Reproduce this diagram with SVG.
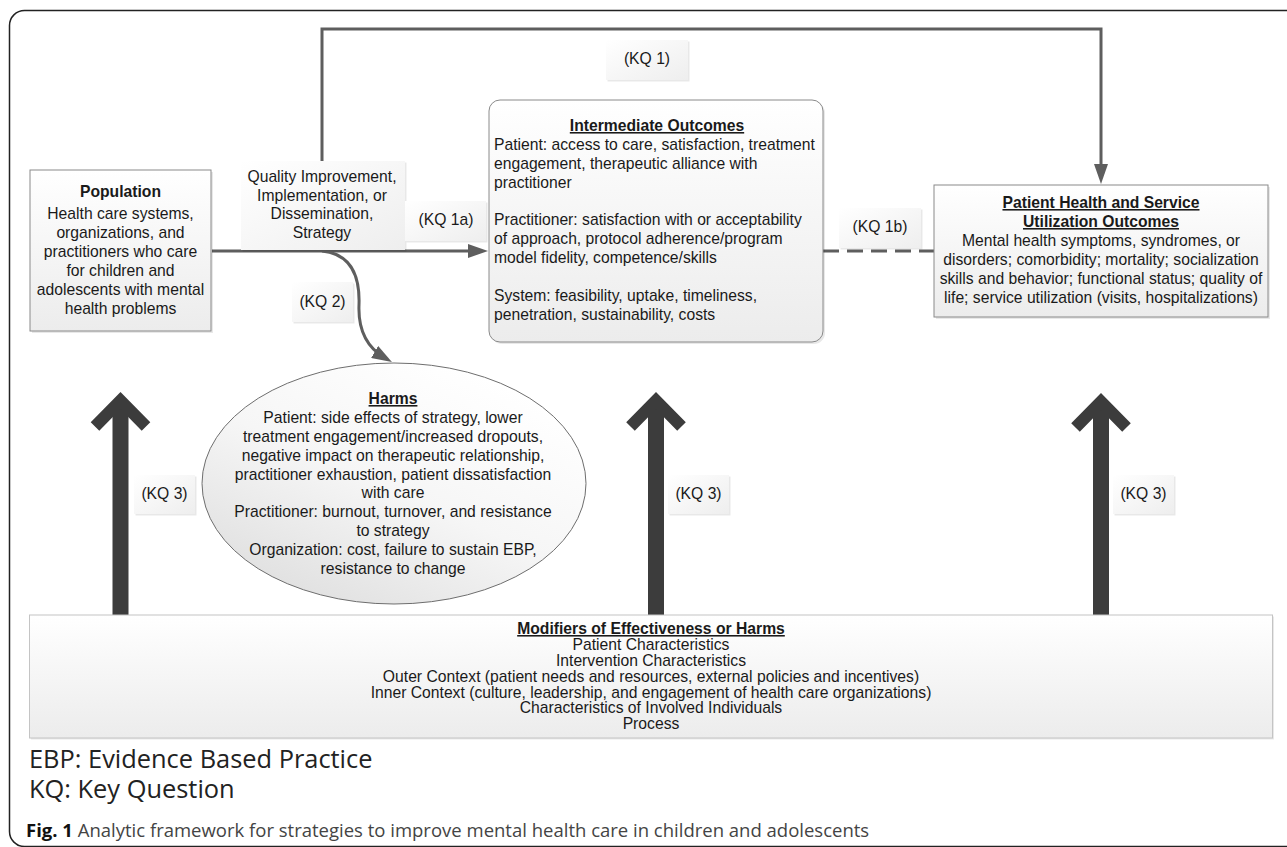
<svg xmlns="http://www.w3.org/2000/svg" width="1287" height="847" viewBox="0 0 1287 847">
<style>
.t{font-family:"Liberation Sans",Arial,sans-serif;font-size:15.7px;fill:#1a1a1a}
.c{text-anchor:middle}
.b{font-weight:bold}
.u{text-decoration:underline}
.conn{fill:none;stroke:#5e5e5e;stroke-width:3}
.box{stroke:#8a8a8a;stroke-width:1}
.lbl{fill:url(#gl)}
.sh{fill:#000;opacity:.09}
.cap{font-family:"Open Sans","Noto Sans",sans-serif;fill:#222}
.kq3{stroke:#3c3c3c;fill:none}
</style>
<defs>
<linearGradient id="gl" x1="0" y1="0" x2="1" y2="1">
<stop offset="0" stop-color="#ffffff"/><stop offset="1" stop-color="#eeeeee"/>
</linearGradient>
<linearGradient id="gb" x1="0" y1="0" x2="0" y2="1">
<stop offset="0" stop-color="#ffffff"/><stop offset="1" stop-color="#ececec"/>
</linearGradient>
<linearGradient id="ge" x1="0.8" y1="0.1" x2="0.2" y2="0.95">
<stop offset="0" stop-color="#ffffff"/><stop offset="0.5" stop-color="#f6f6f6"/><stop offset="1" stop-color="#e0e0e0"/>
</linearGradient>
<marker id="ah" markerUnits="userSpaceOnUse" markerWidth="20" markerHeight="14" viewBox="0 0 20 14" refX="12" refY="7" orient="auto">
<path d="M0,0 L20,7 L0,14 z" fill="#5e5e5e"/>
</marker>
<g id="bigArrow">
<line x1="0" y1="615" x2="0" y2="402" stroke-width="16" class="kq3"/>
<polyline points="-25.5,426.5 0,400.5 25.5,426.5" stroke-width="12" stroke-linejoin="miter" class="kq3"/>
</g>
</defs>

<rect x="9.5" y="10.5" width="1300" height="836" rx="15" fill="#fff" stroke="#222" stroke-width="1.5"/>

<g id="connectors">
<path class="conn" d="M322,251 L322,29 L1101,29 L1101,176" marker-end="url(#ah)"/>
<path class="conn" d="M212,251 L480,251" marker-end="url(#ah)"/>
<path class="conn" d="M823,251 L934,251" stroke-dasharray="16 8"/>
<path class="conn" d="M322,251 C352,254 360,278 359,305 C358,330 366,347 385,358" marker-end="url(#ah)"/>
<use href="#bigArrow" x="120.5"/>
<use href="#bigArrow" x="656"/>
<use href="#bigArrow" x="1101" y="1"/>
</g>

<g id="population">
<rect x="32" y="172" width="181" height="161" class="sh"/>
<rect x="30" y="170" width="181" height="161" fill="url(#gb)" class="box"/>
<text class="t c b" x="120.5" y="197">Population</text>
<text class="t c" x="120.5" y="219">Health care systems,</text>
<text class="t c" x="120.5" y="238">organizations, and</text>
<text class="t c" x="120.5" y="257">practitioners who care</text>
<text class="t c" x="120.5" y="276">for children and</text>
<text class="t c" x="120.5" y="295">adolescents with mental</text>
<text class="t c" x="120.5" y="314">health problems</text>
</g>

<g id="strategy">
<rect x="242.5" y="162.5" width="164" height="89" class="sh"/>
<rect x="241" y="161" width="164" height="89" class="lbl"/>
<text class="t c" x="322" y="182">Quality Improvement,</text>
<text class="t c" x="322" y="201">Implementation, or</text>
<text class="t c" x="322" y="219">Dissemination,</text>
<text class="t c" x="322" y="238">Strategy</text>
</g>

<g id="kq1">
<rect x="607.5" y="41.5" width="82" height="40" class="sh"/>
<rect x="606" y="40" width="82" height="40" class="lbl"/>
<text class="t c" x="647" y="64">(KQ 1)</text>
</g>

<g id="kq1a">
<rect x="406.5" y="202.5" width="81" height="40" class="sh"/>
<rect x="405" y="201" width="81" height="40" class="lbl"/>
<text class="t c" x="446" y="225">(KQ 1a)</text>
</g>

<g id="kq1b">
<rect x="840.5" y="209.5" width="82" height="40" class="sh"/>
<rect x="839" y="208" width="82" height="40" class="lbl"/>
<text class="t c" x="880" y="232">(KQ 1b)</text>
</g>

<g id="kq2">
<rect x="293.5" y="283.5" width="61" height="40" class="sh"/>
<rect x="292" y="282" width="61" height="40" class="lbl"/>
<text class="t c" x="322.5" y="307">(KQ 2)</text>
</g>

<g id="intermediate">
<rect x="491" y="102" width="334" height="242" rx="11" class="sh"/>
<rect x="489" y="100" width="334" height="242" rx="11" fill="url(#gb)" class="box"/>
<text class="t c b u" x="657" y="131">Intermediate Outcomes</text>
<text class="t" x="494" y="150">Patient: access to care, satisfaction, treatment</text>
<text class="t" x="494" y="169">engagement, therapeutic alliance with</text>
<text class="t" x="494" y="188">practitioner</text>
<text class="t" x="494" y="225">Practitioner: satisfaction with or acceptability</text>
<text class="t" x="494" y="244">of approach, protocol adherence/program</text>
<text class="t" x="494" y="263">model fidelity, competence/skills</text>
<text class="t" x="494" y="301">System: feasibility, uptake, timeliness,</text>
<text class="t" x="494" y="320">penetration, sustainability, costs</text>
</g>

<g id="patientHealth">
<rect x="936" y="187" width="334" height="132" class="sh"/>
<rect x="934" y="185" width="334" height="132" fill="url(#gb)" class="box"/>
<text class="t c b u" x="1101" y="208">Patient Health and Service</text>
<text class="t c b u" x="1101" y="227">Utilization Outcomes</text>
<text class="t c" x="1101" y="246">Mental health symptoms, syndromes, or</text>
<text class="t c" x="1101" y="265">disorders; comorbidity; mortality; socialization</text>
<text class="t c" x="1101" y="284">skills and behavior; functional status; quality of</text>
<text class="t c" x="1101" y="303">life; service utilization (visits, hospitalizations)</text>
</g>

<g id="harms">
<ellipse cx="394" cy="483.5" rx="192" ry="120.5" fill="url(#ge)" stroke="#6e6e6e" stroke-width="1"/>
<text class="t c b u" x="393" y="404">Harms</text>
<text class="t c" x="393" y="423">Patient: side effects of strategy, lower</text>
<text class="t c" x="393" y="442">treatment engagement/increased dropouts,</text>
<text class="t c" x="393" y="461">negative impact on therapeutic relationship,</text>
<text class="t c" x="393" y="480">practitioner exhaustion, patient dissatisfaction</text>
<text class="t c" x="393" y="498">with care</text>
<text class="t c" x="393" y="517">Practitioner: burnout, turnover, and resistance</text>
<text class="t c" x="393" y="536">to strategy</text>
<text class="t c" x="393" y="555">Organization: cost, failure to sustain EBP,</text>
<text class="t c" x="393" y="574">resistance to change</text>
</g>

<g id="kq3left">
<rect x="135.5" y="476.5" width="61" height="39" class="sh"/>
<rect x="134" y="475" width="61" height="39" class="lbl"/>
<text class="t c" x="164.5" y="499">(KQ 3)</text>
</g>
<g id="kq3mid">
<rect x="669.5" y="476.5" width="61" height="39" class="sh"/>
<rect x="668" y="475" width="61" height="39" class="lbl"/>
<text class="t c" x="698.5" y="499">(KQ 3)</text>
</g>
<g id="kq3right">
<rect x="1114.5" y="476.5" width="61" height="39" class="sh"/>
<rect x="1113" y="475" width="61" height="39" class="lbl"/>
<text class="t c" x="1143.5" y="499">(KQ 3)</text>
</g>

<g id="modifiers">
<rect x="31" y="616.5" width="1243" height="123" class="sh"/>
<rect x="29.5" y="615" width="1243" height="123" fill="url(#gb)" stroke="#c4c4c4" stroke-width="1"/>
<text class="t c b u" x="651" y="634">Modifiers of Effectiveness or Harms</text>
<text class="t c" x="651" y="650">Patient Characteristics</text>
<text class="t c" x="651" y="666">Intervention Characteristics</text>
<text class="t c" x="651" y="682">Outer Context (patient needs and resources, external policies and incentives)</text>
<text class="t c" x="651" y="698">Inner Context (culture, leadership, and engagement of health care organizations)</text>
<text class="t c" x="651" y="713">Characteristics of Involved Individuals</text>
<text class="t c" x="651" y="729">Process</text>
</g>

<g id="legend">
<text class="cap" x="29" y="768" font-size="25.4">EBP: Evidence Based Practice</text>
<text class="cap" x="29" y="798" font-size="25.4">KQ: Key Question</text>
<text class="cap" x="26" y="837" font-size="18.5"><tspan font-weight="bold" fill="#111">Fig. 1</tspan><tspan fill="#444"> Analytic framework for strategies to improve mental health care in children and adolescents</tspan></text>
</g>
</svg>
